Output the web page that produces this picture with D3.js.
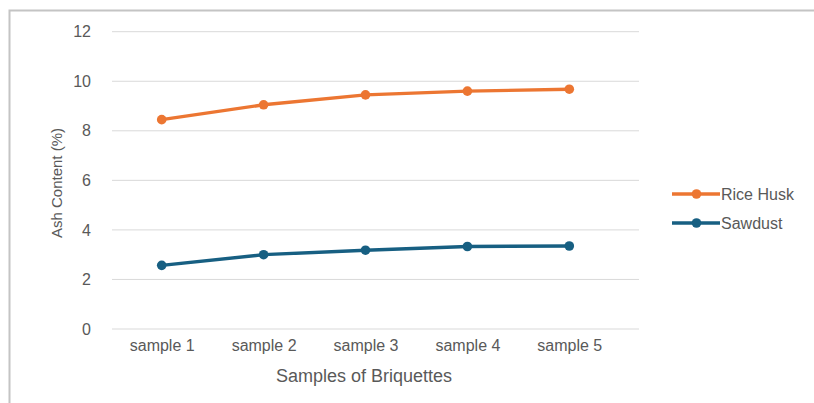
<!DOCTYPE html>
<html>
<head>
<meta charset="utf-8">
<script src="https://cdn.jsdelivr.net/npm/d3@7/dist/d3.min.js"></script>
<style>
  html, body { margin: 0; padding: 0; background: #fff; }
  svg { display: block; }
  text { font-family: "Liberation Sans", Arial, sans-serif; fill: #595959; }
</style>
</head>
<body>
<svg id="chart" width="814" height="403"></svg>
<script>
// Ash content of briquette samples
const categories = ["sample 1", "sample 2", "sample 3", "sample 4", "sample 5"];
const riceHusk = [8.45, 9.05, 9.45, 9.6, 9.68];
const sawdust = [2.57, 3.0, 3.18, 3.33, 3.35];
const yTicks = [0, 2, 4, 6, 8, 10, 12];
const seriesNames = ["Rice Husk", "Sawdust"];
const seriesColors = ["#ec7632", "#175f82"];

const svg = d3.select("#chart");

// outer chart frame
svg.append("rect")
  .attr("x", 9.5).attr("y", 10.5)
  .attr("width", 830).attr("height", 420)
  .attr("fill", "none").attr("stroke", "#c4c4c4").attr("stroke-width", 2);

const plot = { left: 112, right: 639, top: 31.7, bottom: 329 };

const x = d3.scalePoint().domain(categories).range([161.7, 569.3]);
const y = d3.scaleLinear().domain([0, 12]).range([plot.bottom, plot.top]);

// horizontal gridlines
svg.append("g").selectAll("line").data(yTicks).join("line")
  .attr("x1", plot.left).attr("x2", plot.right)
  .attr("y1", d => y(d)).attr("y2", d => y(d))
  .attr("stroke", "#d9d9d9").attr("stroke-width", 1);

// y axis labels
const yAxis = svg.append("g")
  .attr("transform", `translate(${91},0)`)
  .call(d3.axisLeft(y).tickValues(yTicks).tickSize(0).tickPadding(0));
yAxis.select(".domain").remove();
yAxis.selectAll("text")
  .attr("font-size", 16).attr("fill", "#595959")
  .style("font-family", '"Liberation Sans", Arial, sans-serif');

// x axis labels
const xAxis = svg.append("g")
  .attr("transform", `translate(0,${plot.bottom})`)
  .call(d3.axisBottom(x).tickSize(0).tickPadding(11));
xAxis.select(".domain").remove();
xAxis.selectAll("text")
  .attr("font-size", 16).attr("fill", "#595959")
  .style("font-family", '"Liberation Sans", Arial, sans-serif');

// axis titles
svg.append("text")
  .attr("x", 364).attr("y", 382)
  .attr("text-anchor", "middle").attr("font-size", 18)
  .text("Samples of Briquettes");

svg.append("text")
  .attr("transform", "translate(62,183) rotate(-90)")
  .attr("text-anchor", "middle").attr("font-size", 15)
  .text("Ash Content (%)");

// series lines and markers
const series = [riceHusk, sawdust];
const line = d3.line()
  .x((d, i) => x(categories[i]))
  .y(d => y(d));

series.forEach((vals, s) => {
  svg.append("path")
    .datum(vals)
    .attr("d", line)
    .attr("fill", "none")
    .attr("stroke", seriesColors[s])
    .attr("stroke-width", 3.4)
    .attr("stroke-linejoin", "round")
    .attr("stroke-linecap", "round");
  svg.append("g").selectAll("circle").data(vals).join("circle")
    .attr("cx", (d, i) => x(categories[i]))
    .attr("cy", d => y(d))
    .attr("r", 4.8)
    .attr("fill", seriesColors[s]);
});

// legend
const legend = svg.append("g");
const legendY = [194, 223];
seriesNames.forEach((name, s) => {
  const g = legend.append("g").attr("transform", `translate(0,${legendY[s]})`);
  g.append("line")
    .attr("x1", 672).attr("x2", 720).attr("y1", 0).attr("y2", 0)
    .attr("stroke", seriesColors[s]).attr("stroke-width", 3.4);
  g.append("circle").attr("cx", 696.5).attr("cy", 0).attr("r", 4.8)
    .attr("fill", seriesColors[s]);
  g.append("text").attr("x", 721).attr("y", 0).attr("dy", "0.35em")
    .attr("font-size", 16).text(name);
});
</script>
</body>
</html>
